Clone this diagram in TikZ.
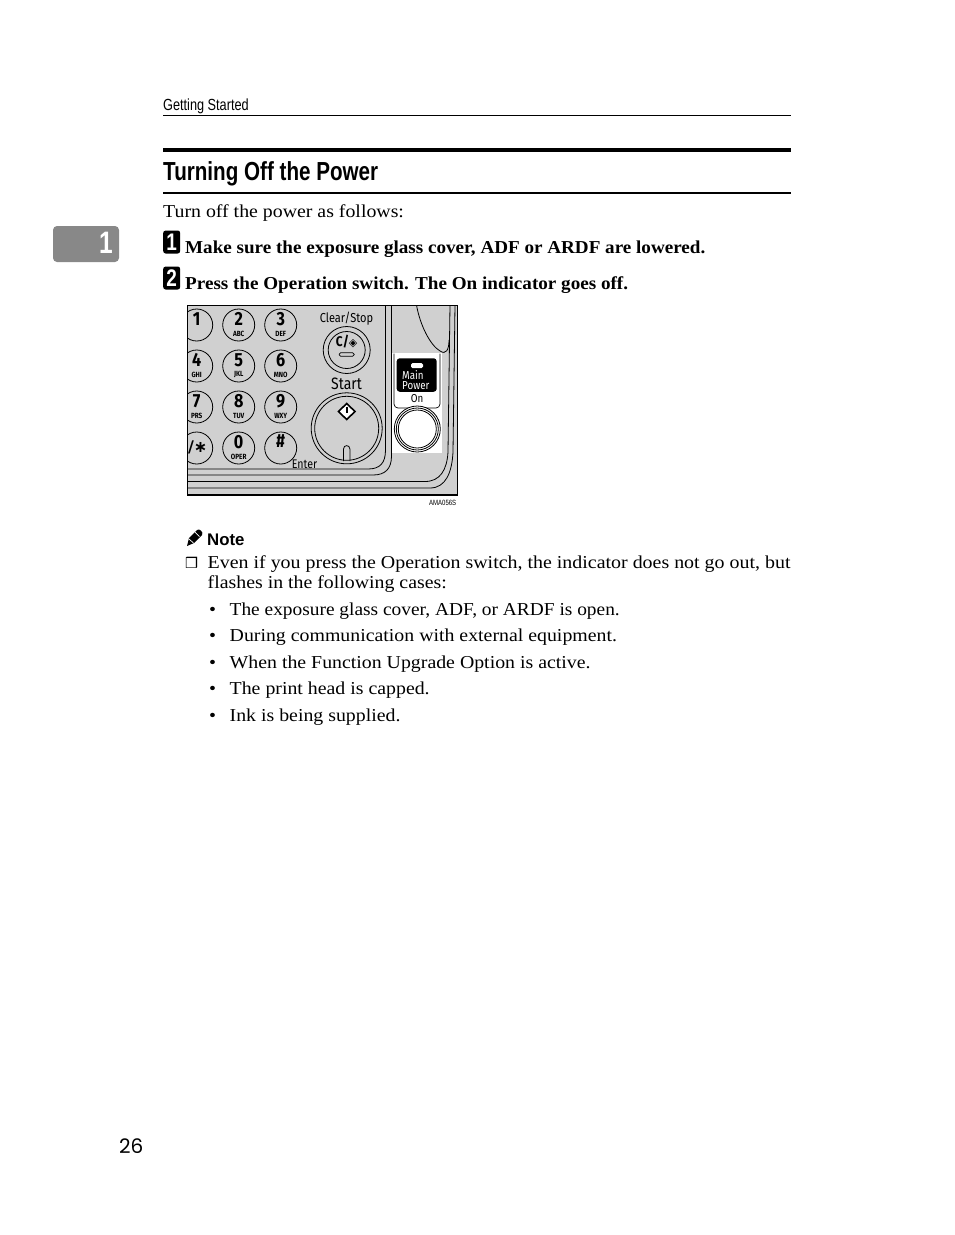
\documentclass[tikz,border=0pt]{standalone}
\usepackage{fontspec}
\setmainfont{Liberation Serif}
\newfontfamily\bodyfont[FakeStretch=1.09]{Liberation Serif}
\newfontfamily\stepfont[FakeStretch=1.05]{Liberation Serif}
\newfontfamily\evenfont[FakeStretch=1.095]{Liberation Serif}
\newfontfamily\itemfont[FakeStretch=1.065]{Liberation Serif}
\newfontfamily\headfont[FakeStretch=0.79]{Liberation Sans}
\newfontfamily\notefont{Liberation Sans}
\newfontfamily\pagefont{Poppins}
\newfontfamily\panelfont[FakeStretch=0.85]{Fira Sans}
\newfontfamily\symfont{DejaVu Sans}
\definecolor{panelgray}{HTML}{D0D0D0}
\definecolor{tabgray}{HTML}{888888}
\tikzset{
  txt/.style={anchor=base west,inner sep=0pt,font=\bodyfont\fontsize{18.2}{20}\selectfont},
  stepnote/.style={txt,font=\stepfont\bfseries\fontsize{18.2}{20}\selectfont},
  stepbox/.style={fill=black,rounded corners=2.5pt,minimum width=17pt,minimum height=23pt,inner sep=0pt,text=white,font=\headfont\bfseries\fontsize{24}{24}\selectfont},
  key/.style={circle,draw,fill=panelgray,minimum size=32pt,inner sep=0pt,line width=.8pt},
  keydigit/.style={inner sep=0pt,font=\panelfont\bfseries\fontsize{19}{19}\selectfont},
  keytext/.style={inner sep=0pt,font=\panelfont\bfseries\fontsize{7.5}{7.5}\selectfont},
  paneltext/.style={inner sep=0pt,font=\panelfont\fontsize{13}{13}\selectfont},
  ring/.style={circle,draw,inner sep=0pt,line width=.8pt}
}
\begin{document}
\begin{tikzpicture}[x=1pt,y=-1pt]
\useasboundingbox (0,0) rectangle (954,1235);
% header
\node [txt,font=\headfont\fontsize{16.1}{16}\selectfont] (header) at (163,110) {Getting Started};
\draw [line width=.8pt] (163,115.5) -- (791,115.5);
\draw [line width=4.5pt] (163,150) -- (791,150);
\node [txt,font=\headfont\bfseries\fontsize{26.1}{26}\selectfont] (title) at (163,180) {Turning Off the Power};
\draw [line width=1.5pt] (163,193) -- (791,193);
% chapter tab
\node [fill=tabgray,rounded corners=4pt,minimum width=66pt,minimum height=36pt,inner sep=0pt] (tab) at (86,244) {};
\node [text=white,inner sep=0pt,font=\headfont\bfseries\fontsize{31}{31}\selectfont] (tabnum) at (106,243) {1};
% steps
\node [txt] (intro) at (163,217) {Turn off the power as follows:};
\node [stepbox] (stepone) at (171.7,242) {1};
\node [stepnote] (steponetext) at (185,253) {Make sure the exposure glass cover, ADF or ARDF are lowered.};
\node [stepbox] (steptwo) at (171.7,278) {2};
\node [stepnote] (steptwotext) at (185,289) {Press the Operation switch. The On indicator goes off.};
% panel
\fill [panelgray] (187,305) rectangle (457,495);
\begin{scope}
\clip (187,305) rectangle (457,495);
\draw [line width=.8pt] (385.5,305) -- (385.5,450) .. controls (385.5,463) and (380,469) .. (368,469) -- (187,469);
\draw [line width=.8pt] (391.5,305) -- (391.5,456) .. controls (391.5,469) and (385,475) .. (373,475) -- (187,475);
\draw [line width=.8pt] (187,481.5) -- (425,481.5) .. controls (440,481.5) and (447,470) .. (448,452) -- (450,305);
\draw [line width=.8pt] (187,488) -- (430,488) .. controls (446,488) and (452,472) .. (453,452) -- (455,305);
\draw [line width=.8pt] (416.5,305) .. controls (420,325) and (430,345) .. (440,351) .. controls (446,355) and (449,350) .. (449,340);
\foreach \keyname/\keyx/\keyy/\keydigit/\keyletters in {
  one/196.7/325/1/,two/238.7/325/2/ABC,three/280.7/325/3/DEF,
  four/196.7/366/4/GHI,five/238.7/366/5/JKL,six/280.7/366/6/MNO,
  seven/196.7/407/7/PRS,eight/238.7/407/8/TUV,nine/280.7/407/9/WXY,
  zero/238.7/448/0/OPER}
{
  \node [key] (key\keyname) at (\keyx,\keyy) {};
  \node [keydigit] (digit\keyname) at ([yshift=6pt]key\keyname.center) {\keydigit};
  \node [keytext] (letters\keyname) at ([yshift=-8.5pt]key\keyname.center) {\keyletters};
}
\node [key] (keystar) at (196.7,448) {};
\node [keydigit] (digitstar) at ([yshift=1pt,xshift=1pt]keystar.center) {\symfont\fontsize{16}{16}\selectfont /∗};
\node [key] (keyhash) at (280.7,448) {};
\node [keydigit] (digithash) at ([yshift=7pt]keyhash.center) {\#};
\end{scope}
\node [paneltext] (clearstop) at (346.5,318.5) {Clear/Stop};
\node [ring,fill=panelgray,minimum size=47pt] (clearouter) at (346.7,350) {};
\node [ring,minimum size=37pt] (clearinner) at (346.7,350) {};
\node [inner sep=0pt,font=\panelfont\bfseries\fontsize{14}{14}\selectfont] (clearlabel) at (346.7,342) {C/\symfont\fontsize{11}{11}\selectfont ◈};
\node [draw,rounded corners=1.5pt,minimum width=15pt,minimum height=3.5pt,inner sep=0pt,line width=.7pt] (clearled) at (346.7,354.5) {};
\node [paneltext,font=\panelfont\fontsize{16.5}{16.5}\selectfont] (startlabel) at (346.5,383.5) {Start};
\node [ring,minimum size=71pt] (startouter) at (346.7,428.3) {};
\node [ring,minimum size=64pt] (startinner) at (346.7,428.3) {};
\draw [line width=1.6pt,fill=white] (346.7,403.5) -- (355,411.5) -- (346.7,419.5) -- (338.5,411.5) -- cycle;
\draw [line width=1.6pt] (346.7,406.5) -- (346.7,413);
\draw [line width=.8pt] (343.5,461) -- (343.5,449) .. controls (343.5,444.5) and (349.9,444.5) .. (349.9,449) -- (349.9,461);
\node [paneltext,font=\panelfont\fontsize{12.5}{12.5}\selectfont] (enter) at (304.5,464.5) {Enter};
% main power block
\fill [white] (391.5,353.3) rectangle (441.7,452.7);
\draw [line width=.7pt,rounded corners=4pt] (394,353.5) -- (394,408) -- (440,408) -- (440,353.5);
\node [fill=black,rounded corners=3pt,minimum width=40pt,minimum height=33.5pt,inner sep=0pt] (powerbox) at (416.7,375) {};
\node [fill=white,rounded corners=1.5pt,minimum width=12pt,minimum height=5pt,inner sep=0pt] (powerled) at (417,365.5) {};
\node [inner sep=0pt,align=left,text=white,anchor=west,font=\panelfont\fontsize{11.5}{10}\selectfont] (powertext) at (402,380.5) {Main\\Power};
\node [inner sep=0pt,font=\panelfont\fontsize{11.5}{12}\selectfont] (onlabel) at (417,398.5) {On};
\node [ring,fill=white,minimum size=46pt] (onouter) at (417.3,429) {};
\node [ring,minimum size=42pt] (onmiddle) at (417.3,429) {};
\node [ring,minimum size=38pt] (oninner) at (417.3,429) {};
\draw [line width=1.2pt] (187.5,305.5) rectangle (457.3,495);
\node [txt,font=\headfont\fontsize{7.6}{8}\selectfont] (figcode) at (429,505) {AMA056S};
% note
\fill (187,546) -- (189,538) -- (197,530) .. controls (199,528) and (204,532) .. (202,535) -- (194,543) -- cycle;
\draw [white,line width=.7pt] (189,539) -- (193.5,543) (195,532) -- (199.5,536.5);
\node [txt,font=\notefont\bfseries\fontsize{16.8}{16}\selectfont] (note) at (207,545) {Note};
\node [txt,font=\symfont\fontsize{14.5}{15}\selectfont] (checkbox) at (185,568) {❒};
\node [txt,font=\evenfont\fontsize{18.2}{20}\selectfont] (noteone) at (207.5,568) {Even if you press the Operation switch, the indicator does not go out, but};
\node [txt] (notetwo) at (207.5,588) {flashes in the following cases:};
\foreach \itemname/\itemy/\itemtext in {
  bulletone/615/{\itemfont The exposure glass cover, ADF, or ARDF is open.},
  bullettwo/641/During communication with external equipment.,
  bulletthree/668/When the Function Upgrade Option is active.,
  bulletfour/694/The print head is capped.,
  bulletfive/721/Ink is being supplied.}
{
  \node [txt] (dot\itemname) at (209,\itemy) {•};
  \node [txt] (\itemname) at (229.5,\itemy) {\itemtext};
}
\node [txt,font=\pagefont\fontsize{20}{20}\selectfont] (pagenum) at (119,1153) {26};
\end{tikzpicture}
\end{document}
